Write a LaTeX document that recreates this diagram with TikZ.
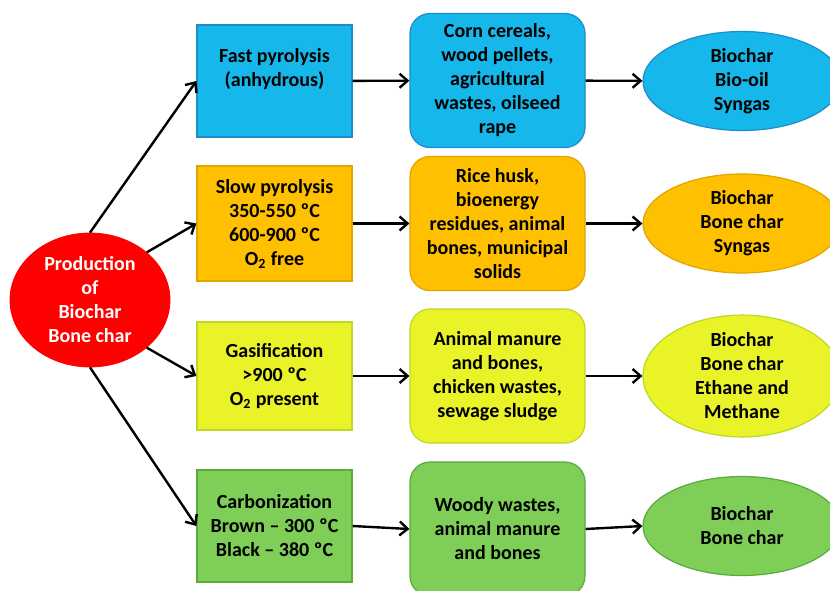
\documentclass[tikz,border=0pt]{standalone}
\usepackage{fontspec}
\setmainfont{Carlito}
\usetikzlibrary{arrows.meta,shapes.geometric}
\definecolor{cblue}{RGB}{22,183,234}
\definecolor{cbluel}{RGB}{30,140,200}
\definecolor{corange}{RGB}{255,192,0}
\definecolor{corangel}{RGB}{225,165,0}
\definecolor{cyellow}{RGB}{234,242,40}
\definecolor{cyellowl}{RGB}{190,215,40}
\definecolor{cgreen}{RGB}{126,206,88}
\definecolor{cgreenl}{RGB}{90,170,60}
\definecolor{cred}{RGB}{255,0,0}
\tikzset{
  txt/.style={font=\fontsize{10}{12}\selectfont\bfseries, align=center, text=black},
  procbox/.style={draw, line width=0.6pt, minimum width=77.5pt, inner sep=0pt},
  feedbox/.style={draw, line width=0.6pt, rounded corners=10pt, minimum width=87.5pt, minimum height=67pt, inner sep=0pt, txt},
  prodell/.style={ellipse, draw, line width=0.6pt, minimum width=99pt, minimum height=49.5pt, inner sep=0pt, txt},
  conn/.style={line width=1.2pt, -{Straight Barb[length=4pt,width=7pt,line width=1.2pt]}}
}
\begin{document}
\begin{tikzpicture}[x=0.5pt,y=-0.5pt]
\useasboundingbox (0,0) rectangle (830,590);
\clip (0,0) rectangle (830,590);
\fill[white] (0,0) rectangle (830,590);

% central ellipse
\node[ellipse, draw=cred, fill=cred, minimum width=80pt, minimum height=67pt, inner sep=0pt,
      font=\fontsize{10}{12}\selectfont\bfseries, align=center, text=white] (c) at (90,300)
      {Production\\of\\Biochar\\Bone char};

% column 1
\node[procbox, fill=cblue, draw=cbluel, minimum height=56pt] (f1) at (274.5,81) {};
\node[txt] (t1) at (274.5,69) {Fast pyrolysis\\(anhydrous)};
\node[procbox, fill=corange, draw=corangel, minimum height=57.5pt, txt] (f2) at (274.5,223.5)
  {Slow pyrolysis\\350-550 ºC\\600-900 ºC\\O\textsubscript{2} free};
\node[procbox, fill=cyellow, draw=cyellowl, minimum height=54pt, txt] (f3) at (274.5,376)
  {Gasification\\>900 ºC\\O\textsubscript{2} present};
\node[procbox, fill=cgreen, draw=cgreenl, minimum height=56pt, txt] (f4) at (274.5,526)
  {Carbonization\\Brown – 300 ºC\\Black – 380 ºC};

% column 2
\node[feedbox, fill=cblue, draw=cbluel] (m1) at (497.5,80.5)
  {Corn cereals,\\wood pellets,\\agricultural\\wastes, oilseed\\rape};
\node[feedbox, fill=corange, draw=corangel] (m2) at (497.5,223.5)
  {Rice husk,\\bioenergy\\residues, animal\\bones, municipal\\solids};
\node[feedbox, fill=cyellow, draw=cyellowl] (m3) at (497.5,376)
  {Animal manure\\and bones,\\chicken wastes,\\sewage sludge};
\node[feedbox, fill=cgreen, draw=cgreenl] (m4) at (497.5,529)
  {Woody wastes,\\animal manure\\and bones};

% column 3
\node[prodell, fill=cblue, draw=cbluel] (p1) at (742,81) {Biochar\\Bio-oil\\Syngas};
\node[prodell, fill=corange, draw=corangel] (p2) at (742,223.5) {Biochar\\Bone char\\Syngas};
\node[prodell, fill=cyellow, draw=cyellowl] (p3) at (742,376) {Biochar\\Bone char\\Ethane and\\Methane};
\node[prodell, fill=cgreen, draw=cgreenl] (p4) at (742,526) {Biochar\\Bone char};

% connectors
\draw[conn] (c.north) -- (f1.west);
\draw[conn] (c.40) -- (f2.west);
\draw[conn] (c.-40) -- (f3.west);
\draw[conn] (c.south) -- (f4.west);
\draw[conn] (f1) -- (m1);
\draw[conn] (f2) -- (m2);
\draw[conn] (f3) -- (m3);
\draw[conn] (f4.east) -- (m4.west);
\draw[conn] (m1) -- (p1);
\draw[conn] (m2) -- (p2);
\draw[conn] (m3) -- (p3);
\draw[conn] (m4.east) -- (p4.west);
\end{tikzpicture}
\end{document}
